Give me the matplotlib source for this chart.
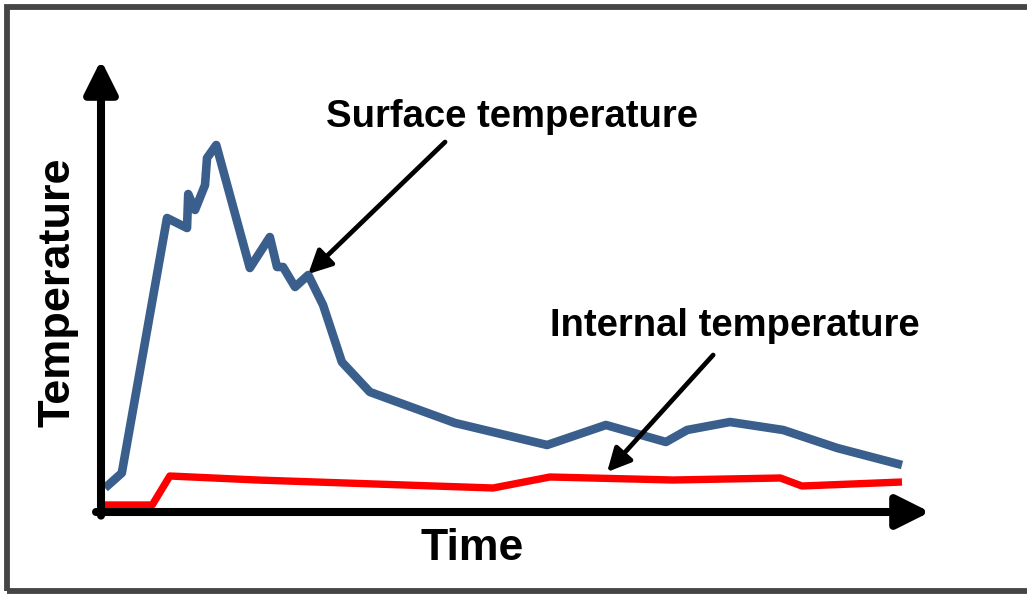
import matplotlib
matplotlib.use("Agg")
import matplotlib.pyplot as plt
from matplotlib.patches import Rectangle

plt.rcParams['font.family'] = ['Liberation Sans', 'DejaVu Sans']

# time in arbitrary units, temperature in arbitrary units
surface_t = [0.5, 2.6, 8.25, 10.75, 10.9, 11.75, 13.0, 13.25, 14.4, 18.6, 21.1, 22.0,
             22.75, 24.25, 25.9, 27.75, 30.1, 33.6, 44.25, 55.75, 63.1, 70.6, 73.25,
             78.6, 85.25, 92.0, 100.1]
surface_temp = [6.0, 9.75, 73.5, 71.0, 79.5, 75.5, 81.75, 88.5, 91.75, 61.0, 68.75, 61.25,
                61.25, 56.25, 59.25, 51.75, 37.5, 30.0, 22.25, 16.75, 21.75, 17.5, 20.5,
                22.5, 20.5, 16.0, 11.75]

internal_t = [0.5, 6.4, 8.6, 19.5, 49.0, 56.1, 71.5, 84.9, 87.6, 100.1]
internal_temp = [1.75, 1.75, 9.0, 8.0, 6.0, 8.75, 8.0, 8.5, 6.5, 7.5]

W, H = 1027, 594
fig = plt.figure(figsize=(W / 100, H / 100), dpi=100)

# dark frame around the slide
fig.patches.append(Rectangle((7 / W, 3 / H), 1.2, 1 - 10 / H, transform=fig.transFigure,
                             fill=False, edgecolor='#454545', linewidth=4.2))

ax = fig.add_axes([101 / W, (H - 512) / H, (930 - 101) / W, (512 - 60) / H])
ax.set_xlim(0, 103.6)
ax.set_ylim(0, 113)
ax.axis('off')

ax.plot(surface_t, surface_temp, color='#3A5F8D', lw=6.2, solid_joinstyle='round',
        solid_capstyle='butt', zorder=3)
ax.plot(internal_t, internal_temp, color='#FF0000', lw=5.3, solid_joinstyle='round',
        solid_capstyle='butt', zorder=3)

# axis arrows
axis_arrow = dict(arrowstyle='-|>,head_length=20,head_width=10', mutation_scale=1,
                  lw=5.8, color='black', shrinkA=0, shrinkB=0)
ax.annotate('', xy=(1, 0), xytext=(-0.006, 0), xycoords='axes fraction',
            arrowprops=axis_arrow, annotation_clip=False)
ax.annotate('', xy=(0, 1), xytext=(0, -0.008), xycoords='axes fraction',
            arrowprops=axis_arrow, annotation_clip=False)

# callouts
callout = dict(arrowstyle='-|>,head_length=14,head_width=7', mutation_scale=1,
               lw=3.4, color='black', shrinkA=0, shrinkB=0)
ax.annotate('', xy=(25.9, 59.5), xytext=(43.0, 92.5), arrowprops=callout, zorder=4)
ax.annotate('', xy=(63.25, 10.0), xytext=(76.5, 39.25), arrowprops=callout, zorder=4)
ax.text(51.4, 98.75, 'Surface temperature', fontsize=27.5, fontweight='bold',
        ha='center', va='center')
ax.text(79.25, 46.5, 'Internal temperature', fontsize=27.5, fontweight='bold',
        ha='center', va='center')

fig.text(58 / W, 1 - 292 / H, 'Temperature', fontsize=32.5, fontweight='bold',
         rotation=90, ha='center', va='center')
fig.text(472 / W, 1 - 548 / H, 'Time', fontsize=32, fontweight='bold',
         ha='center', va='center')

fig.savefig('out.png', dpi=100)
